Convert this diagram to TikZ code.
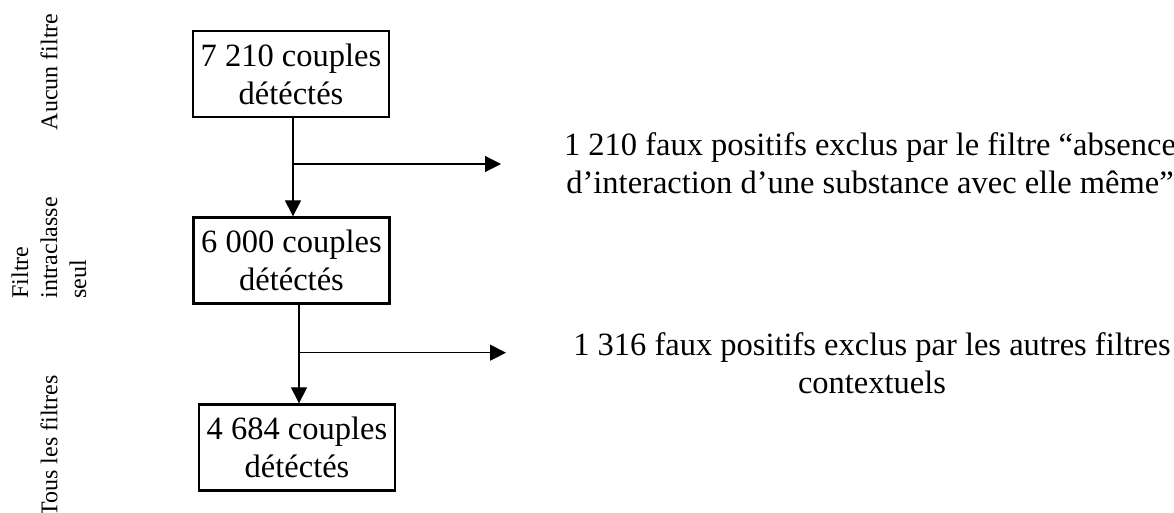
\documentclass[tikz,border=0pt]{standalone}
\usepackage{fontspec}
\setmainfont{Liberation Serif}
\usetikzlibrary{positioning, arrows.meta}

\begin{document}
\begin{tikzpicture}[x=1pt, y=1pt,
                    box/.style={draw, line width=2.3pt, minimum width=196pt,
                                minimum height=86pt, inner sep=0pt, align=center,
                                font=\fontsize{32.5}{38}\selectfont},
                    note/.style={align=center, inner sep=0pt,
                                 font=\fontsize{32.5}{38}\selectfont},
                    side/.style={rotate=90, inner sep=0pt,
                                 font=\fontsize{24}{29}\selectfont},
                    flow/.style={line width=1.1pt, -{Triangle[length=16pt, width=16pt]}}]
\useasboundingbox (0,0) rectangle (1174,512);
\node[box] (all) at (291,438) {7 210 couples\\détéctés};
\node[box] (intra) at (291.5,251.5) {6 000 couples\\détéctés};
\node[box] (final) at (297,64.5) {4 684 couples\\détéctés};
\coordinate (split1) at (293,348);
\coordinate (split2) at (299,159.3);
\coordinate (out1) at (501,348);
\coordinate (out2) at (506,159.3);
\draw[flow] (all.south -| split1) -- (intra.north -| split1);
\draw[flow] (intra.south -| split2) -- (final.north -| split2);
\draw[flow] (split1) -- (out1);
\draw[flow] (split2) -- (out2);
\node[note] (lost1) at (870,349) {1 210 faux positifs exclus par le filtre “absence\\d’interaction d’une substance avec elle même”};
\node[note] (lost2) at (872,149) {1 316 faux positifs exclus par les autres filtres\\contextuels};
\node[side] (none) at (49,440) {Aucun filtre};
\node[side, align=left] (one) at (49,264) {Filtre\\intraclasse\\seul};
\node[side] (every) at (49,66) {Tous les filtres};
\end{tikzpicture}
\end{document}
